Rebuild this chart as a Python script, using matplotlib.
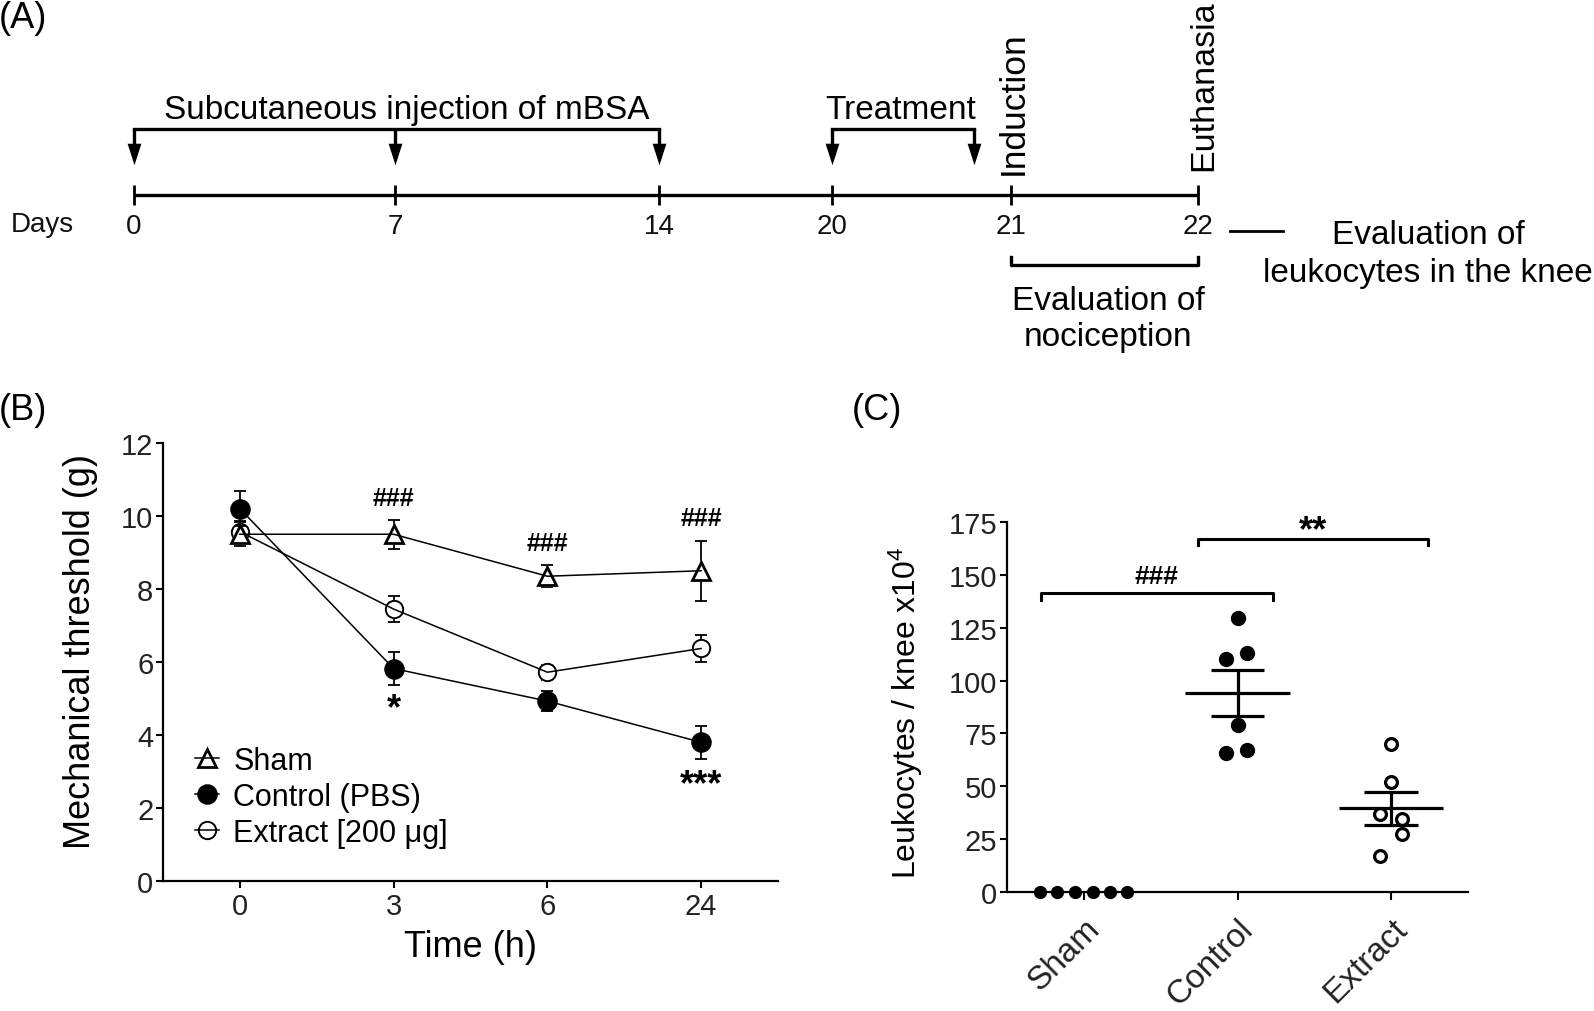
import numpy as np
import matplotlib
matplotlib.use('Agg')
import matplotlib.pyplot as plt
from matplotlib.path import Path

plt.rcParams['font.family'] = ['Liberation Sans', 'DejaVu Sans']
plt.rcParams['mathtext.fontset'] = 'custom'
plt.rcParams['mathtext.rm'] = 'Liberation Sans'
plt.rcParams['mathtext.it'] = 'Liberation Sans:italic'
plt.rcParams['mathtext.bf'] = 'Liberation Sans:bold'

# ---------------- data ----------------
# Panel A (timeline)
day_labels = ['0', '7', '14', '20', '21', '22']

# Panel B (mechanical threshold, mean +/- SEM)
time_labels = ['0', '3', '6', '24']
sham_mean = [9.50, 9.50, 8.35, 8.50]
sham_sem = [0.33, 0.40, 0.30, 0.82]
control_mean = [10.20, 5.82, 4.93, 3.80]
control_sem = [0.48, 0.45, 0.27, 0.45]
extract_mean = [9.57, 7.45, 5.72, 6.37]
extract_sem = [0.30, 0.35, 0.20, 0.37]
series_labels = ['Sham', 'Control (PBS)', 'Extract [200 μg]']

# Panel C (leukocytes / knee x10^4, individual animals)
groups = ['Sham', 'Control', 'Extract']
sham_vals = [0, 0, 0, 0, 0, 0]
control_vals = [129.4, 110.4, 112.9, 78.8, 65.7, 67.3]
extract_vals = [70.1, 52.0, 36.7, 34.3, 27.2, 17.0]

# ---------------- layout ----------------
W, H = 1594, 1012
fig = plt.figure(figsize=(W / 100, H / 100), dpi=100)

# full-figure overlay in pixel units for the schematic (panel A) and panel letters
axA = fig.add_axes([0, 0, 1, 1])
axA.set_xlim(0, W)
axA.set_ylim(H, 0)
axA.axis('off')

day_x = [134, 395, 659, 832, 1011, 1198]
tl_y = 196
LW = 2.4
big = 24

axA.plot([day_x[0], day_x[-1]], [tl_y, tl_y], color='k', lw=LW, solid_capstyle='butt')
axA.vlines(day_x, tl_y - 10, tl_y + 10, color='k', lw=2.0)
for xp, lab in zip(day_x, day_labels):
    axA.text(xp, 227, lab, ha='center', va='center', fontsize=20, color='#111111')
axA.text(11, 225, 'Days', ha='left', va='center', fontsize=20, color='#111111')

arrow_marker = Path([(-0.32, 0.5), (0.32, 0.5), (0.0, -0.5), (-0.32, 0.5)],
                    [Path.MOVETO, Path.LINETO, Path.LINETO, Path.CLOSEPOLY])


def arrow_bracket(xs, y_top=130, y_tip=165):
    axA.plot([xs[0], xs[-1]], [y_top, y_top], color='k', lw=LW, solid_capstyle='projecting')
    for xp in xs:
        axA.plot([xp, xp], [y_top, y_tip - 12], color='k', lw=LW, solid_capstyle='butt')
        axA.plot(xp, y_tip - 10.4, marker=arrow_marker, ms=15.5, color='k', mew=0)


arrow_bracket([day_x[0], day_x[1], day_x[2]])
arrow_bracket([day_x[3], 974])

axA.text(407, 119, 'Subcutaneous injection of mBSA', ha='center', va='baseline', fontsize=big)
axA.text(901, 119, 'Treatment', ha='center', va='baseline', fontsize=big)
axA.text(1023, 175, 'Induction', rotation=90, rotation_mode='anchor',
         ha='left', va='baseline', fontsize=25.5)
axA.text(1212, 171, 'Euthanasia', rotation=90, rotation_mode='anchor',
         ha='left', va='baseline', fontsize=24.5)

axA.plot([1230, 1283], [232, 232], color='k', lw=2.0)
axA.text(1428, 244, 'Evaluation of', ha='center', va='baseline', fontsize=big)
axA.text(1428, 282, 'leukocytes in the knee', ha='center', va='baseline', fontsize=big)

axA.plot([day_x[4], day_x[4], day_x[5], day_x[5]], [258, 266, 266, 258], color='k', lw=LW)
axA.text(1108, 310, 'Evaluation of', ha='center', va='baseline', fontsize=big)
axA.text(1108, 346, 'nociception', ha='center', va='baseline', fontsize=big)

axA.text(-1, 18, '(A)', ha='left', va='center', fontsize=26)
axA.text(-1, 410, '(B)', ha='left', va='center', fontsize=26)
axA.text(852, 410, '(C)', ha='left', va='center', fontsize=26)

tick_col = '#222222'

# ---------------- panel B ----------------
axB = fig.add_axes([163 / W, 1 - 882 / H, 615 / W, 438 / H])
xb = np.arange(len(time_labels))
axB.set_xlim(-0.5, 3.5)
axB.set_ylim(0, 12)
for s in ['top', 'right']:
    axB.spines[s].set_visible(False)
for s in ['left', 'bottom']:
    axB.spines[s].set_linewidth(1.6)
axB.set_xticks(xb, time_labels)
axB.set_yticks(np.arange(0, 13, 2))
axB.tick_params(direction='out', length=5, width=1.5, labelsize=21, pad=2,
                colors='k', labelcolor=tick_col)
axB.tick_params(axis='x', pad=3)

# (means, sems, marker, filled?, size, edge width, z-order base)
styles = [
    (extract_mean, extract_sem, 'o', False, 12.5, 1.4, 2),
    (sham_mean, sham_sem, '^', False, 13.5, 2.0, 5),
    (control_mean, control_sem, 'o', True, 13, 1.8, 8),
]
style_labels = [series_labels[2], series_labels[0], series_labels[1]]
handles = {}
for (m, e, mk, filled, ms, mew, z), lab in zip(styles, style_labels):
    axB.errorbar(xb, m, yerr=e, fmt='none', ecolor='k', elinewidth=1.3,
                 capsize=4, capthick=1.3, zorder=z)
    if not filled:
        # white disc under the open marker so the error bar does not show inside it
        axB.plot(xb, m, ls='none', marker=mk, ms=ms, mfc='white', mec='white',
                 mew=mew, zorder=z + 0.5)
    h, = axB.plot(xb, m, color='k', lw=1.1, marker=mk, ms=ms,
                  mfc='black' if filled else 'none', mec='k',
                  mew=mew, zorder=z + 1, label=lab)
    handles[lab] = h

axB.legend([handles[l] for l in series_labels], series_labels,
           loc='upper left', bbox_to_anchor=(0.052, 0.309), frameon=False,
           fontsize=22, handlelength=0.8, handletextpad=0.45, labelspacing=0.2,
           borderpad=0, borderaxespad=0, numpoints=1)

for xp, yp in zip([1, 2, 3], [10.49, 9.27, 9.95]):
    axB.text(xp, yp, '###', ha='center', va='center', fontsize=18, fontweight='bold')
axB.text(1, 4.72, '*', ha='center', va='center', fontsize=26, fontweight='bold')
axB.text(3, 2.65, '***', ha='center', va='center', fontsize=26, fontweight='bold')

axB.set_ylabel('Mechanical threshold (g)', fontsize=26)
axB.yaxis.set_label_coords(-0.1065, 0.527)
axB.set_xlabel('Time (h)', fontsize=26)
axB.xaxis.set_label_coords(0.5, -0.11)

# ---------------- panel C ----------------
axC = fig.add_axes([1007 / W, 1 - 893 / H, 461 / W, 370 / H])
axC.set_xlim(-0.5, 2.5)
axC.set_ylim(0, 175)
for s in ['top', 'right']:
    axC.spines[s].set_visible(False)
for s in ['left', 'bottom']:
    axC.spines[s].set_linewidth(1.6)
axC.set_yticks(np.arange(0, 176, 25))
axC.set_xticks(np.arange(len(groups)))
axC.set_xticklabels(groups, rotation=45, ha='right', rotation_mode='anchor', fontsize=24)
axC.tick_params(direction='out', length=5, width=1.5, labelsize=21, pad=2,
                colors='k', labelcolor=tick_col)
axC.tick_params(axis='x', length=6, pad=9, labelsize=24)

sham_dx = [-0.284, -0.173, -0.058, 0.057, 0.173, 0.284]
control_dx = [0.0, -0.077, 0.065, 0.0, -0.077, 0.065]
extract_dx = [0.0, 0.0, -0.075, 0.07, 0.07, -0.075]

axC.plot(0 + np.array(sham_dx), sham_vals, 'o', ms=8.5, color='k', clip_on=False, zorder=5)
axC.plot(1 + np.array(control_dx), control_vals, 'o', ms=10, color='k', zorder=4)
axC.plot(2 + np.array(extract_dx), extract_vals, 'o', ms=8.5, mfc='white', mec='k',
         mew=2.3, zorder=4)

for i, vals in [(1, control_vals), (2, extract_vals)]:
    v = np.asarray(vals, dtype=float)
    mean = v.mean()
    sem = v.std(ddof=1) / np.sqrt(len(v))
    axC.hlines(mean, i - 0.34, i + 0.34, color='k', lw=2.3, zorder=3)
    axC.hlines([mean - sem, mean + sem], i - 0.175, i + 0.175, color='k', lw=2.3, zorder=3)
    axC.vlines(i, mean - sem, mean + sem, color='k', lw=2.3, zorder=3)

# significance brackets
axC.plot([-0.28, -0.28, 1.23, 1.23], [138.3, 141.2, 141.2, 138.3], color='k', lw=2.2,
         clip_on=False)
axC.text(0.475, 149.5, '###', ha='center', va='center', fontsize=19, fontweight='bold')
axC.plot([0.74, 0.74, 2.24, 2.24], [164.0, 167.1, 167.1, 164.0], color='k', lw=2.2,
         clip_on=False)
axC.text(1.49, 171.0, '**', ha='center', va='center', fontsize=26, fontweight='bold')

axC.set_ylabel('Leukocytes / knee x10$^4$', fontsize=23)
axC.yaxis.set_label_coords(-0.178, 0.488)

fig.savefig('out.png', dpi=100)
